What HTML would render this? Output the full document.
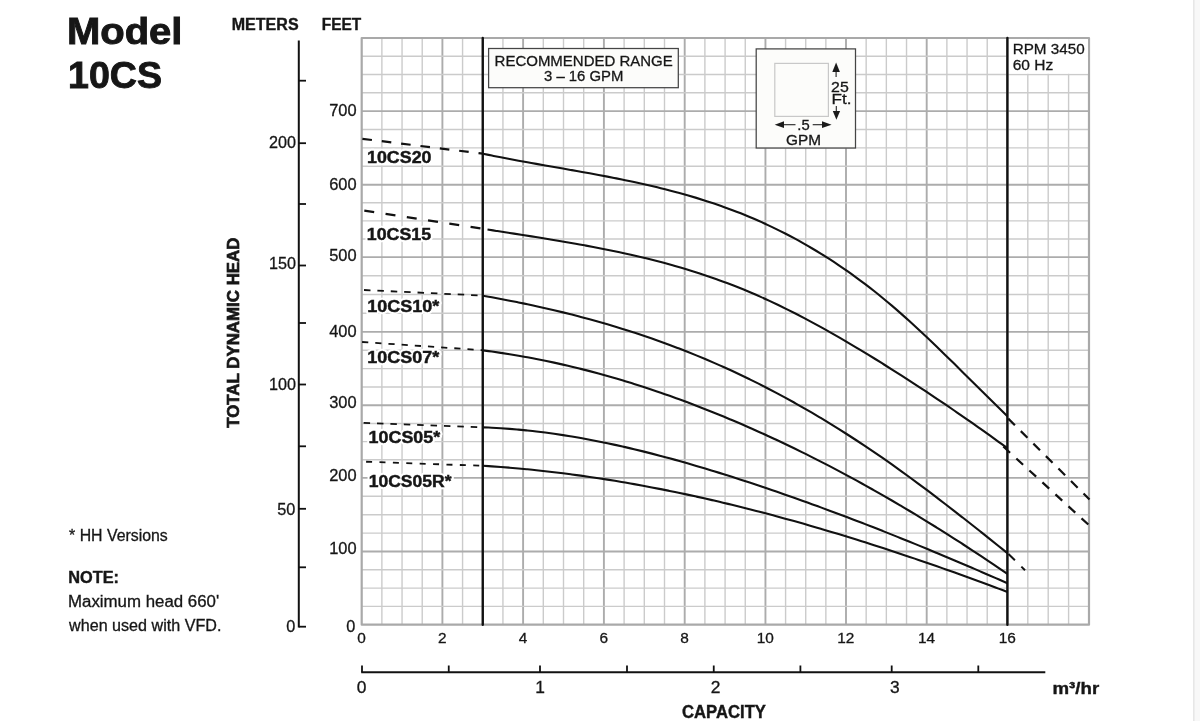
<!DOCTYPE html>
<html><head><meta charset="utf-8"><style>
html,body{margin:0;padding:0;background:#fff;width:1200px;height:721px;overflow:hidden}
svg{display:block;will-change:transform;font-family:"Liberation Sans",sans-serif;fill:#161616}
</style></head><body>
<svg width="1200" height="721" viewBox="0 0 1200 721">
<rect x="1194.4" y="0" width="5.6" height="721" fill="#f8f8f8"/>
<rect x="1193.2" y="0" width="1.3" height="721" fill="#e2e2e2"/>
<line x1="381.88" y1="38.00" x2="381.88" y2="624.70" stroke="#cbcbcb" stroke-width="1.4"/>
<line x1="402.05" y1="38.00" x2="402.05" y2="624.70" stroke="#cbcbcb" stroke-width="1.4"/>
<line x1="422.22" y1="38.00" x2="422.22" y2="624.70" stroke="#cbcbcb" stroke-width="1.4"/>
<line x1="442.40" y1="38.00" x2="442.40" y2="624.70" stroke="#acacac" stroke-width="1.9"/>
<line x1="462.57" y1="38.00" x2="462.57" y2="624.70" stroke="#cbcbcb" stroke-width="1.4"/>
<line x1="482.75" y1="38.00" x2="482.75" y2="624.70" stroke="#cbcbcb" stroke-width="1.4"/>
<line x1="502.93" y1="38.00" x2="502.93" y2="624.70" stroke="#cbcbcb" stroke-width="1.4"/>
<line x1="523.10" y1="38.00" x2="523.10" y2="624.70" stroke="#acacac" stroke-width="1.9"/>
<line x1="543.30" y1="38.00" x2="543.30" y2="624.70" stroke="#cbcbcb" stroke-width="1.4"/>
<line x1="563.50" y1="38.00" x2="563.50" y2="624.70" stroke="#cbcbcb" stroke-width="1.4"/>
<line x1="583.70" y1="38.00" x2="583.70" y2="624.70" stroke="#cbcbcb" stroke-width="1.4"/>
<line x1="603.90" y1="38.00" x2="603.90" y2="624.70" stroke="#acacac" stroke-width="1.9"/>
<line x1="624.10" y1="38.00" x2="624.10" y2="624.70" stroke="#cbcbcb" stroke-width="1.4"/>
<line x1="644.30" y1="38.00" x2="644.30" y2="624.70" stroke="#cbcbcb" stroke-width="1.4"/>
<line x1="664.50" y1="38.00" x2="664.50" y2="624.70" stroke="#cbcbcb" stroke-width="1.4"/>
<line x1="684.70" y1="38.00" x2="684.70" y2="624.70" stroke="#acacac" stroke-width="1.9"/>
<line x1="704.89" y1="38.00" x2="704.89" y2="624.70" stroke="#cbcbcb" stroke-width="1.4"/>
<line x1="725.08" y1="38.00" x2="725.08" y2="624.70" stroke="#cbcbcb" stroke-width="1.4"/>
<line x1="745.26" y1="38.00" x2="745.26" y2="624.70" stroke="#cbcbcb" stroke-width="1.4"/>
<line x1="765.45" y1="38.00" x2="765.45" y2="624.70" stroke="#acacac" stroke-width="1.9"/>
<line x1="785.59" y1="38.00" x2="785.59" y2="624.70" stroke="#cbcbcb" stroke-width="1.4"/>
<line x1="805.73" y1="38.00" x2="805.73" y2="624.70" stroke="#cbcbcb" stroke-width="1.4"/>
<line x1="825.86" y1="38.00" x2="825.86" y2="624.70" stroke="#cbcbcb" stroke-width="1.4"/>
<line x1="846.00" y1="38.00" x2="846.00" y2="624.70" stroke="#acacac" stroke-width="1.9"/>
<line x1="866.17" y1="38.00" x2="866.17" y2="624.70" stroke="#cbcbcb" stroke-width="1.4"/>
<line x1="886.35" y1="38.00" x2="886.35" y2="624.70" stroke="#cbcbcb" stroke-width="1.4"/>
<line x1="906.53" y1="38.00" x2="906.53" y2="624.70" stroke="#cbcbcb" stroke-width="1.4"/>
<line x1="926.70" y1="38.00" x2="926.70" y2="624.70" stroke="#acacac" stroke-width="1.9"/>
<line x1="946.88" y1="38.00" x2="946.88" y2="624.70" stroke="#cbcbcb" stroke-width="1.4"/>
<line x1="967.05" y1="38.00" x2="967.05" y2="624.70" stroke="#cbcbcb" stroke-width="1.4"/>
<line x1="987.23" y1="38.00" x2="987.23" y2="624.70" stroke="#cbcbcb" stroke-width="1.4"/>
<line x1="1007.40" y1="38.00" x2="1007.40" y2="624.70" stroke="#acacac" stroke-width="1.9"/>
<line x1="1027.80" y1="38.00" x2="1027.80" y2="624.70" stroke="#cbcbcb" stroke-width="1.4"/>
<line x1="1048.20" y1="38.00" x2="1048.20" y2="624.70" stroke="#cbcbcb" stroke-width="1.4"/>
<line x1="1068.60" y1="38.00" x2="1068.60" y2="624.70" stroke="#cbcbcb" stroke-width="1.4"/>
<line x1="361.70" y1="606.40" x2="1089.00" y2="606.40" stroke="#cbcbcb" stroke-width="1.4"/>
<line x1="361.70" y1="588.10" x2="1089.00" y2="588.10" stroke="#cbcbcb" stroke-width="1.4"/>
<line x1="361.70" y1="569.80" x2="1089.00" y2="569.80" stroke="#cbcbcb" stroke-width="1.4"/>
<line x1="361.70" y1="551.50" x2="1089.00" y2="551.50" stroke="#acacac" stroke-width="1.9"/>
<line x1="361.70" y1="533.10" x2="1089.00" y2="533.10" stroke="#cbcbcb" stroke-width="1.4"/>
<line x1="361.70" y1="514.70" x2="1089.00" y2="514.70" stroke="#cbcbcb" stroke-width="1.4"/>
<line x1="361.70" y1="496.30" x2="1089.00" y2="496.30" stroke="#cbcbcb" stroke-width="1.4"/>
<line x1="361.70" y1="477.90" x2="1089.00" y2="477.90" stroke="#acacac" stroke-width="1.9"/>
<line x1="361.70" y1="459.75" x2="1089.00" y2="459.75" stroke="#cbcbcb" stroke-width="1.4"/>
<line x1="361.70" y1="441.60" x2="1089.00" y2="441.60" stroke="#cbcbcb" stroke-width="1.4"/>
<line x1="361.70" y1="423.45" x2="1089.00" y2="423.45" stroke="#cbcbcb" stroke-width="1.4"/>
<line x1="361.70" y1="405.30" x2="1089.00" y2="405.30" stroke="#acacac" stroke-width="1.9"/>
<line x1="361.70" y1="386.95" x2="1089.00" y2="386.95" stroke="#cbcbcb" stroke-width="1.4"/>
<line x1="361.70" y1="368.60" x2="1089.00" y2="368.60" stroke="#cbcbcb" stroke-width="1.4"/>
<line x1="361.70" y1="350.25" x2="1089.00" y2="350.25" stroke="#cbcbcb" stroke-width="1.4"/>
<line x1="361.70" y1="331.90" x2="1089.00" y2="331.90" stroke="#acacac" stroke-width="1.9"/>
<line x1="361.70" y1="313.20" x2="1089.00" y2="313.20" stroke="#cbcbcb" stroke-width="1.4"/>
<line x1="361.70" y1="294.50" x2="1089.00" y2="294.50" stroke="#cbcbcb" stroke-width="1.4"/>
<line x1="361.70" y1="275.80" x2="1089.00" y2="275.80" stroke="#cbcbcb" stroke-width="1.4"/>
<line x1="361.70" y1="257.10" x2="1089.00" y2="257.10" stroke="#acacac" stroke-width="1.9"/>
<line x1="361.70" y1="239.00" x2="1089.00" y2="239.00" stroke="#cbcbcb" stroke-width="1.4"/>
<line x1="361.70" y1="220.90" x2="1089.00" y2="220.90" stroke="#cbcbcb" stroke-width="1.4"/>
<line x1="361.70" y1="202.80" x2="1089.00" y2="202.80" stroke="#cbcbcb" stroke-width="1.4"/>
<line x1="361.70" y1="184.70" x2="1089.00" y2="184.70" stroke="#acacac" stroke-width="1.9"/>
<line x1="361.70" y1="166.30" x2="1089.00" y2="166.30" stroke="#cbcbcb" stroke-width="1.4"/>
<line x1="361.70" y1="147.90" x2="1089.00" y2="147.90" stroke="#cbcbcb" stroke-width="1.4"/>
<line x1="361.70" y1="129.50" x2="1089.00" y2="129.50" stroke="#cbcbcb" stroke-width="1.4"/>
<line x1="361.70" y1="111.10" x2="1089.00" y2="111.10" stroke="#acacac" stroke-width="1.9"/>
<line x1="361.70" y1="92.82" x2="1089.00" y2="92.82" stroke="#cbcbcb" stroke-width="1.4"/>
<line x1="361.70" y1="74.55" x2="1089.00" y2="74.55" stroke="#cbcbcb" stroke-width="1.4"/>
<line x1="361.70" y1="56.27" x2="1089.00" y2="56.27" stroke="#cbcbcb" stroke-width="1.4"/>
<rect x="361.70" y="38.00" width="727.30" height="586.70" fill="none" stroke="#a9a9a9" stroke-width="2.2" stroke-linejoin="round"/>
<rect x="1008.40" y="39.10" width="79.50" height="34.65" fill="#fff"/>
<line x1="482.75" y1="38.00" x2="482.75" y2="624.70" stroke="#111" stroke-width="2.4" stroke-linecap="round"/>
<line x1="1007.40" y1="38.00" x2="1007.40" y2="624.70" stroke="#111" stroke-width="2.4" stroke-linecap="round"/>
<rect x="488.6" y="48.5" width="189.7" height="39.2" fill="#fcfcfa" stroke="#454545" stroke-width="1.25"/>
<rect x="756.2" y="48.9" width="99.3" height="99.1" fill="#fcfcfa" stroke="#454545" stroke-width="1.25"/>
<rect x="774.8" y="63.4" width="53.6" height="53" fill="none" stroke="#c8c8c8" stroke-width="1.2"/>
<line x1="836.1" y1="71" x2="836.1" y2="77" stroke="#222" stroke-width="1.1"/>
<line x1="836.3" y1="106" x2="836.3" y2="112" stroke="#222" stroke-width="1.1"/>
<path d="M836.1,62.5 L832.3,72.1 L839.9,72.1 Z" fill="#1a1a1a"/>
<path d="M836.4,119.7 L832.8,110.9 L840.1,110.9 Z" fill="#1a1a1a"/>
<line x1="783" y1="124.7" x2="795.5" y2="124.7" stroke="#222" stroke-width="1.1"/>
<line x1="812.7" y1="124.7" x2="823" y2="124.7" stroke="#222" stroke-width="1.1"/>
<path d="M774.7,124.7 L784,121.3 L784,128.1 Z" fill="#1a1a1a"/>
<path d="M831.6,124.7 L822,121.3 L822,128.1 Z" fill="#1a1a1a"/>
<path d="M483.00,153.72 C484.48,154.02 488.93,154.95 491.89,155.55 C494.85,156.15 497.81,156.74 500.78,157.32 C503.74,157.90 506.70,158.47 509.66,159.03 C512.63,159.59 515.59,160.14 518.55,160.69 C521.52,161.24 524.48,161.78 527.44,162.31 C530.40,162.85 533.37,163.37 536.33,163.90 C539.29,164.43 542.25,164.95 545.22,165.47 C548.18,165.99 551.14,166.51 554.11,167.03 C557.07,167.55 560.03,168.07 562.99,168.58 C565.96,169.10 568.92,169.62 571.88,170.15 C574.84,170.67 577.81,171.19 580.77,171.72 C583.73,172.26 586.69,172.79 589.66,173.33 C592.62,173.87 595.58,174.41 598.55,174.97 C601.51,175.52 604.47,176.08 607.43,176.65 C610.40,177.21 613.36,177.79 616.32,178.38 C619.28,178.97 622.25,179.56 625.21,180.17 C628.17,180.78 631.14,181.41 634.10,182.04 C637.06,182.68 640.02,183.32 642.99,183.99 C645.95,184.65 648.91,185.33 651.87,186.02 C654.84,186.72 657.80,187.43 660.76,188.16 C663.73,188.89 666.69,189.63 669.65,190.40 C672.61,191.17 675.58,191.95 678.54,192.76 C681.50,193.57 684.46,194.40 687.43,195.25 C690.39,196.10 693.35,196.97 696.32,197.87 C699.28,198.77 702.24,199.69 705.20,200.64 C708.17,201.59 711.13,202.56 714.09,203.56 C717.05,204.56 720.02,205.59 722.98,206.64 C725.94,207.70 728.91,208.78 731.87,209.90 C734.83,211.02 737.79,212.16 740.76,213.34 C743.72,214.52 746.68,215.72 749.64,216.97 C752.61,218.21 755.57,219.49 758.53,220.80 C761.49,222.11 764.46,223.45 767.42,224.83 C770.38,226.21 773.35,227.62 776.31,229.07 C779.27,230.52 782.23,232.00 785.20,233.52 C788.16,235.04 791.12,236.60 794.08,238.20 C797.05,239.79 800.01,241.43 802.97,243.10 C805.94,244.77 808.90,246.48 811.86,248.23 C814.82,249.98 817.79,251.77 820.75,253.60 C823.71,255.42 826.67,257.29 829.64,259.20 C832.60,261.11 835.56,263.07 838.53,265.06 C841.49,267.05 844.45,269.09 847.41,271.17 C850.38,273.24 853.34,275.37 856.30,277.53 C859.26,279.70 862.23,281.90 865.19,284.16 C868.15,286.41 871.12,288.71 874.08,291.05 C877.04,293.40 880.00,295.79 882.97,298.22 C885.93,300.66 888.89,303.15 891.85,305.67 C894.82,308.20 897.78,310.77 900.74,313.38 C903.71,315.99 906.67,318.65 909.63,321.33 C912.59,324.01 915.56,326.73 918.52,329.48 C921.48,332.23 924.44,335.01 927.41,337.81 C930.37,340.62 933.33,343.45 936.29,346.30 C939.26,349.15 942.22,352.02 945.18,354.91 C948.15,357.79 951.11,360.70 954.07,363.61 C957.03,366.53 960.00,369.46 962.96,372.39 C965.92,375.32 968.88,378.26 971.85,381.21 C974.81,384.15 977.77,387.09 980.74,390.03 C983.70,392.98 986.66,395.92 989.62,398.85 C992.59,401.78 995.55,404.71 998.51,407.62 C1001.47,410.53 1005.92,414.87 1007.40,416.32" fill="none" stroke="#111" stroke-width="2.1" stroke-linecap="butt" stroke-linejoin="round"/>
<path d="M487.50,229.54 C488.97,229.77 493.37,230.46 496.31,230.92 C499.25,231.37 502.19,231.83 505.12,232.28 C508.06,232.74 511.00,233.20 513.94,233.65 C516.87,234.11 519.81,234.57 522.75,235.03 C525.68,235.49 528.62,235.95 531.56,236.41 C534.50,236.88 537.43,237.34 540.37,237.82 C543.31,238.29 546.25,238.76 549.18,239.24 C552.12,239.72 555.06,240.21 557.99,240.70 C560.93,241.19 563.87,241.69 566.81,242.20 C569.74,242.70 572.68,243.22 575.62,243.74 C578.56,244.26 581.49,244.79 584.43,245.32 C587.37,245.86 590.31,246.41 593.24,246.97 C596.18,247.53 599.12,248.09 602.05,248.67 C604.99,249.25 607.93,249.84 610.87,250.44 C613.80,251.05 616.74,251.66 619.68,252.29 C622.62,252.92 625.55,253.56 628.49,254.22 C631.43,254.87 634.36,255.54 637.30,256.23 C640.24,256.91 643.18,257.61 646.11,258.33 C649.05,259.05 651.99,259.78 654.93,260.53 C657.86,261.29 660.80,262.05 663.74,262.84 C666.67,263.63 669.61,264.43 672.55,265.26 C675.49,266.09 678.42,266.93 681.36,267.80 C684.30,268.66 687.24,269.55 690.17,270.45 C693.11,271.36 696.05,272.29 698.98,273.24 C701.92,274.19 704.86,275.17 707.80,276.16 C710.73,277.16 713.67,278.18 716.61,279.23 C719.55,280.28 722.48,281.34 725.42,282.44 C728.36,283.54 731.29,284.66 734.23,285.81 C737.17,286.96 740.11,288.13 743.04,289.33 C745.98,290.54 748.92,291.77 751.86,293.03 C754.79,294.28 757.73,295.57 760.67,296.88 C763.61,298.19 766.54,299.53 769.48,300.90 C772.42,302.26 775.35,303.65 778.29,305.06 C781.23,306.47 784.17,307.91 787.10,309.37 C790.04,310.83 792.98,312.31 795.92,313.81 C798.85,315.32 801.79,316.84 804.73,318.39 C807.66,319.94 810.60,321.51 813.54,323.10 C816.48,324.68 819.41,326.29 822.35,327.92 C825.29,329.55 828.23,331.19 831.16,332.85 C834.10,334.52 837.04,336.20 839.97,337.90 C842.91,339.59 845.85,341.31 848.79,343.04 C851.72,344.77 854.66,346.52 857.60,348.28 C860.54,350.04 863.47,351.81 866.41,353.60 C869.35,355.39 872.28,357.19 875.22,359.01 C878.16,360.82 881.10,362.65 884.03,364.49 C886.97,366.33 889.91,368.18 892.85,370.04 C895.78,371.90 898.72,373.77 901.66,375.66 C904.59,377.54 907.53,379.43 910.47,381.34 C913.41,383.25 916.34,385.16 919.28,387.09 C922.22,389.02 925.16,390.96 928.09,392.91 C931.03,394.86 933.97,396.82 936.91,398.79 C939.84,400.76 942.78,402.74 945.72,404.74 C948.65,406.73 951.59,408.74 954.53,410.75 C957.47,412.77 960.40,414.79 963.34,416.83 C966.28,418.87 969.22,420.92 972.15,422.97 C975.09,425.03 978.03,427.10 980.96,429.18 C983.90,431.26 986.84,433.36 989.78,435.46 C992.71,437.56 995.65,439.67 998.59,441.80 C1001.53,443.92 1005.93,447.13 1007.40,448.20" fill="none" stroke="#111" stroke-width="2.1" stroke-linecap="butt" stroke-linejoin="round"/>
<path d="M483.00,295.75 C484.48,296.02 488.93,296.79 491.89,297.33 C494.85,297.86 497.81,298.41 500.78,298.96 C503.74,299.52 506.70,300.09 509.66,300.67 C512.63,301.25 515.59,301.84 518.55,302.44 C521.52,303.04 524.48,303.65 527.44,304.28 C530.40,304.90 533.37,305.54 536.33,306.19 C539.29,306.84 542.25,307.50 545.22,308.18 C548.18,308.85 551.14,309.54 554.11,310.24 C557.07,310.94 560.03,311.65 562.99,312.38 C565.96,313.11 568.92,313.85 571.88,314.60 C574.84,315.36 577.81,316.12 580.77,316.91 C583.73,317.69 586.69,318.48 589.66,319.29 C592.62,320.11 595.58,320.93 598.55,321.77 C601.51,322.61 604.47,323.47 607.43,324.34 C610.40,325.21 613.36,326.09 616.32,326.99 C619.28,327.89 622.25,328.81 625.21,329.74 C628.17,330.68 631.14,331.62 634.10,332.59 C637.06,333.55 640.02,334.53 642.99,335.53 C645.95,336.53 648.91,337.54 651.87,338.58 C654.84,339.61 657.80,340.65 660.76,341.72 C663.73,342.79 666.69,343.87 669.65,344.97 C672.61,346.07 675.58,347.19 678.54,348.33 C681.50,349.46 684.46,350.62 687.43,351.79 C690.39,352.96 693.35,354.15 696.32,355.36 C699.28,356.57 702.24,357.80 705.20,359.05 C708.17,360.30 711.13,361.57 714.09,362.85 C717.05,364.14 720.02,365.45 722.98,366.77 C725.94,368.10 728.91,369.44 731.87,370.81 C734.83,372.18 737.79,373.56 740.76,374.97 C743.72,376.38 746.68,377.80 749.64,379.25 C752.61,380.70 755.57,382.17 758.53,383.66 C761.49,385.15 764.46,386.66 767.42,388.19 C770.38,389.72 773.35,391.27 776.31,392.85 C779.27,394.42 782.23,396.01 785.20,397.62 C788.16,399.24 791.12,400.87 794.08,402.52 C797.05,404.18 800.01,405.85 802.97,407.55 C805.94,409.24 808.90,410.96 811.86,412.70 C814.82,414.43 817.79,416.19 820.75,417.96 C823.71,419.74 826.67,421.54 829.64,423.35 C832.60,425.17 835.56,427.01 838.53,428.86 C841.49,430.72 844.45,432.60 847.41,434.50 C850.38,436.39 853.34,438.31 856.30,440.25 C859.26,442.19 862.23,444.15 865.19,446.12 C868.15,448.10 871.12,450.10 874.08,452.12 C877.04,454.13 880.00,456.17 882.97,458.23 C885.93,460.29 888.89,462.37 891.85,464.46 C894.82,466.56 897.78,468.68 900.74,470.81 C903.71,472.94 906.67,475.09 909.63,477.26 C912.59,479.43 915.56,481.61 918.52,483.81 C921.48,486.01 924.44,488.23 927.41,490.46 C930.37,492.68 933.33,494.93 936.29,497.18 C939.26,499.44 942.22,501.71 945.18,503.99 C948.15,506.26 951.11,508.56 954.07,510.86 C957.03,513.16 960.00,515.47 962.96,517.79 C965.92,520.10 968.88,522.43 971.85,524.77 C974.81,527.10 977.77,529.45 980.74,531.80 C983.70,534.15 986.66,536.50 989.62,538.86 C992.59,541.22 995.55,543.59 998.51,545.96 C1001.47,548.32 1005.92,551.89 1007.40,553.07" fill="none" stroke="#111" stroke-width="2.1" stroke-linecap="butt" stroke-linejoin="round"/>
<path d="M483.00,350.41 C484.48,350.60 488.93,351.17 491.89,351.57 C494.85,351.98 497.81,352.40 500.78,352.84 C503.74,353.28 506.70,353.74 509.66,354.22 C512.63,354.69 515.59,355.18 518.55,355.69 C521.52,356.20 524.48,356.73 527.44,357.27 C530.40,357.82 533.37,358.38 536.33,358.95 C539.29,359.53 542.25,360.13 545.22,360.74 C548.18,361.35 551.14,361.98 554.11,362.62 C557.07,363.27 560.03,363.93 562.99,364.61 C565.96,365.28 568.92,365.98 571.88,366.69 C574.84,367.40 577.81,368.12 580.77,368.87 C583.73,369.61 586.69,370.37 589.66,371.14 C592.62,371.92 595.58,372.71 598.55,373.52 C601.51,374.32 604.47,375.15 607.43,375.98 C610.40,376.82 613.36,377.68 616.32,378.55 C619.28,379.42 622.25,380.30 625.21,381.20 C628.17,382.10 631.14,383.02 634.10,383.95 C637.06,384.88 640.02,385.83 642.99,386.79 C645.95,387.75 648.91,388.73 651.87,389.72 C654.84,390.71 657.80,391.72 660.76,392.74 C663.73,393.76 666.69,394.80 669.65,395.85 C672.61,396.90 675.58,397.97 678.54,399.05 C681.50,400.13 684.46,401.23 687.43,402.34 C690.39,403.45 693.35,404.57 696.32,405.71 C699.28,406.85 702.24,408.00 705.20,409.17 C708.17,410.33 711.13,411.52 714.09,412.71 C717.05,413.91 720.02,415.12 722.98,416.34 C725.94,417.56 728.91,418.80 731.87,420.05 C734.83,421.30 737.79,422.56 740.76,423.84 C743.72,425.12 746.68,426.41 749.64,427.72 C752.61,429.02 755.57,430.34 758.53,431.67 C761.49,433.00 764.46,434.35 767.42,435.71 C770.38,437.07 773.35,438.44 776.31,439.82 C779.27,441.21 782.23,442.61 785.20,444.02 C788.16,445.43 791.12,446.86 794.08,448.30 C797.05,449.73 800.01,451.19 802.97,452.65 C805.94,454.12 808.90,455.59 811.86,457.09 C814.82,458.58 817.79,460.08 820.75,461.60 C823.71,463.12 826.67,464.65 829.64,466.19 C832.60,467.73 835.56,469.29 838.53,470.86 C841.49,472.43 844.45,474.01 847.41,475.61 C850.38,477.20 853.34,478.81 856.30,480.43 C859.26,482.05 862.23,483.69 865.19,485.33 C868.15,486.98 871.12,488.64 874.08,490.31 C877.04,491.98 880.00,493.67 882.97,495.37 C885.93,497.06 888.89,498.77 891.85,500.50 C894.82,502.22 897.78,503.96 900.74,505.70 C903.71,507.45 906.67,509.21 909.63,510.99 C912.59,512.76 915.56,514.55 918.52,516.34 C921.48,518.14 924.44,519.95 927.41,521.78 C930.37,523.60 933.33,525.44 936.29,527.28 C939.26,529.13 942.22,530.99 945.18,532.86 C948.15,534.74 951.11,536.62 954.07,538.52 C957.03,540.42 960.00,542.33 962.96,544.25 C965.92,546.17 968.88,548.10 971.85,550.05 C974.81,552.00 977.77,553.95 980.74,555.93 C983.70,557.90 986.66,559.88 989.62,561.87 C992.59,563.87 995.55,565.87 998.51,567.89 C1001.47,569.91 1005.92,572.97 1007.40,573.98" fill="none" stroke="#111" stroke-width="2.1" stroke-linecap="butt" stroke-linejoin="round"/>
<path d="M483.00,427.35 C484.48,427.41 488.93,427.58 491.89,427.72 C494.85,427.87 497.81,428.04 500.78,428.23 C503.74,428.41 506.70,428.62 509.66,428.85 C512.63,429.08 515.59,429.33 518.55,429.60 C521.52,429.87 524.48,430.17 527.44,430.48 C530.40,430.79 533.37,431.12 536.33,431.46 C539.29,431.81 542.25,432.18 545.22,432.57 C548.18,432.95 551.14,433.36 554.11,433.78 C557.07,434.20 560.03,434.64 562.99,435.10 C565.96,435.56 568.92,436.04 571.88,436.53 C574.84,437.02 577.81,437.53 580.77,438.06 C583.73,438.58 586.69,439.13 589.66,439.69 C592.62,440.24 595.58,440.82 598.55,441.41 C601.51,442.00 604.47,442.61 607.43,443.23 C610.40,443.85 613.36,444.49 616.32,445.14 C619.28,445.79 622.25,446.45 625.21,447.13 C628.17,447.81 631.14,448.51 634.10,449.21 C637.06,449.92 640.02,450.64 642.99,451.37 C645.95,452.11 648.91,452.86 651.87,453.61 C654.84,454.37 657.80,455.15 660.76,455.93 C663.73,456.71 666.69,457.51 669.65,458.32 C672.61,459.13 675.58,459.95 678.54,460.78 C681.50,461.61 684.46,462.45 687.43,463.30 C690.39,464.15 693.35,465.02 696.32,465.89 C699.28,466.76 702.24,467.65 705.20,468.54 C708.17,469.43 711.13,470.33 714.09,471.24 C717.05,472.16 720.02,473.08 722.98,474.01 C725.94,474.94 728.91,475.87 731.87,476.82 C734.83,477.77 737.79,478.72 740.76,479.68 C743.72,480.64 746.68,481.61 749.64,482.59 C752.61,483.57 755.57,484.55 758.53,485.54 C761.49,486.53 764.46,487.53 767.42,488.54 C770.38,489.54 773.35,490.56 776.31,491.57 C779.27,492.59 782.23,493.62 785.20,494.65 C788.16,495.69 791.12,496.73 794.08,497.78 C797.05,498.82 800.01,499.88 802.97,500.94 C805.94,502.00 808.90,503.06 811.86,504.14 C814.82,505.21 817.79,506.29 820.75,507.38 C823.71,508.46 826.67,509.56 829.64,510.66 C832.60,511.76 835.56,512.86 838.53,513.97 C841.49,515.08 844.45,516.20 847.41,517.33 C850.38,518.45 853.34,519.58 856.30,520.72 C859.26,521.85 862.23,522.99 865.19,524.14 C868.15,525.29 871.12,526.44 874.08,527.60 C877.04,528.76 880.00,529.93 882.97,531.10 C885.93,532.27 888.89,533.44 891.85,534.62 C894.82,535.81 897.78,536.99 900.74,538.19 C903.71,539.38 906.67,540.58 909.63,541.78 C912.59,542.98 915.56,544.19 918.52,545.40 C921.48,546.62 924.44,547.84 927.41,549.06 C930.37,550.28 933.33,551.51 936.29,552.74 C939.26,553.98 942.22,555.22 945.18,556.46 C948.15,557.70 951.11,558.95 954.07,560.20 C957.03,561.46 960.00,562.71 962.96,563.98 C965.92,565.24 968.88,566.50 971.85,567.77 C974.81,569.05 977.77,570.32 980.74,571.60 C983.70,572.88 986.66,574.16 989.62,575.45 C992.59,576.74 995.55,578.03 998.51,579.33 C1001.47,580.62 1005.92,582.58 1007.40,583.23" fill="none" stroke="#111" stroke-width="2.1" stroke-linecap="butt" stroke-linejoin="round"/>
<path d="M483.00,465.79 C484.48,465.88 488.93,466.16 491.89,466.36 C494.85,466.57 497.81,466.78 500.78,467.00 C503.74,467.23 506.70,467.47 509.66,467.71 C512.63,467.96 515.59,468.22 518.55,468.48 C521.52,468.75 524.48,469.03 527.44,469.32 C530.40,469.61 533.37,469.91 536.33,470.22 C539.29,470.53 542.25,470.85 545.22,471.18 C548.18,471.51 551.14,471.86 554.11,472.21 C557.07,472.56 560.03,472.92 562.99,473.30 C565.96,473.67 568.92,474.05 571.88,474.44 C574.84,474.84 577.81,475.24 580.77,475.65 C583.73,476.07 586.69,476.49 589.66,476.92 C592.62,477.35 595.58,477.80 598.55,478.25 C601.51,478.70 604.47,479.16 607.43,479.64 C610.40,480.11 613.36,480.59 616.32,481.08 C619.28,481.57 622.25,482.07 625.21,482.58 C628.17,483.09 631.14,483.61 634.10,484.14 C637.06,484.67 640.02,485.21 642.99,485.75 C645.95,486.30 648.91,486.86 651.87,487.42 C654.84,487.99 657.80,488.56 660.76,489.14 C663.73,489.73 666.69,490.32 669.65,490.92 C672.61,491.52 675.58,492.13 678.54,492.75 C681.50,493.37 684.46,494.00 687.43,494.64 C690.39,495.27 693.35,495.92 696.32,496.57 C699.28,497.23 702.24,497.89 705.20,498.56 C708.17,499.23 711.13,499.91 714.09,500.60 C717.05,501.28 720.02,501.98 722.98,502.68 C725.94,503.39 728.91,504.10 731.87,504.82 C734.83,505.54 737.79,506.27 740.76,507.00 C743.72,507.74 746.68,508.49 749.64,509.24 C752.61,509.99 755.57,510.75 758.53,511.52 C761.49,512.29 764.46,513.06 767.42,513.85 C770.38,514.63 773.35,515.42 776.31,516.22 C779.27,517.02 782.23,517.82 785.20,518.64 C788.16,519.45 791.12,520.27 794.08,521.10 C797.05,521.93 800.01,522.77 802.97,523.61 C805.94,524.45 808.90,525.30 811.86,526.16 C814.82,527.02 817.79,527.88 820.75,528.75 C823.71,529.63 826.67,530.50 829.64,531.39 C832.60,532.28 835.56,533.17 838.53,534.07 C841.49,534.97 844.45,535.87 847.41,536.79 C850.38,537.70 853.34,538.62 856.30,539.54 C859.26,540.47 862.23,541.40 865.19,542.34 C868.15,543.28 871.12,544.23 874.08,545.18 C877.04,546.13 880.00,547.09 882.97,548.05 C885.93,549.02 888.89,549.99 891.85,550.97 C894.82,551.94 897.78,552.93 900.74,553.92 C903.71,554.91 906.67,555.90 909.63,556.90 C912.59,557.90 915.56,558.91 918.52,559.92 C921.48,560.94 924.44,561.96 927.41,562.98 C930.37,564.01 933.33,565.04 936.29,566.07 C939.26,567.11 942.22,568.15 945.18,569.20 C948.15,570.24 951.11,571.30 954.07,572.35 C957.03,573.41 960.00,574.47 962.96,575.54 C965.92,576.61 968.88,577.69 971.85,578.76 C974.81,579.84 977.77,580.93 980.74,582.02 C983.70,583.11 986.66,584.20 989.62,585.30 C992.59,586.40 995.55,587.50 998.51,588.61 C1001.47,589.72 1005.92,591.40 1007.40,591.95" fill="none" stroke="#111" stroke-width="2.1" stroke-linecap="butt" stroke-linejoin="round"/>
<line x1="362.4" y1="138.8" x2="483" y2="153.7" stroke="#111" stroke-width="2.2" stroke-dasharray="9.6 9.9" stroke-dashoffset="0"/>
<line x1="364.3" y1="210.6" x2="483" y2="228.8" stroke="#111" stroke-width="2.2" stroke-dasharray="10 11.5" stroke-dashoffset="0"/>
<line x1="364" y1="290.0" x2="483" y2="295.6" stroke="#111" stroke-width="1.8" stroke-dasharray="6.5 6.9" stroke-dashoffset="0"/>
<line x1="362.1" y1="342.0" x2="483" y2="350.2" stroke="#111" stroke-width="1.8" stroke-dasharray="6.2 7" stroke-dashoffset="0"/>
<line x1="362.1" y1="422.8" x2="483" y2="427.4" stroke="#111" stroke-width="1.8" stroke-dasharray="6.5 6.9" stroke-dashoffset="-1.5"/>
<line x1="362.1" y1="461.6" x2="483" y2="465.8" stroke="#111" stroke-width="1.8" stroke-dasharray="6 7.4" stroke-dashoffset="-4"/>
<line x1="1007.4" y1="417.8" x2="1089.5" y2="499.5" stroke="#111" stroke-width="2.2" stroke-dasharray="9.4 8.3" stroke-dashoffset="-1.2"/>
<line x1="1003.3" y1="446.5" x2="1089" y2="525.2" stroke="#111" stroke-width="2.2" stroke-dasharray="9.2 8.5" stroke-dashoffset="0"/>
<line x1="1007.4" y1="553" x2="1025" y2="570.2" stroke="#111" stroke-width="2.0" stroke-dasharray="9 9" stroke-dashoffset="-1.5"/>
<text x="494.60" y="66.00" font-size="15" font-weight="normal" textLength="178.16" lengthAdjust="spacingAndGlyphs" stroke="#161616" stroke-width="0.3">RECOMMENDED RANGE</text>
<text x="544.02" y="81.40" font-size="15.2" font-weight="normal" textLength="79.41" lengthAdjust="spacingAndGlyphs" stroke="#161616" stroke-width="0.3">3 – 16 GPM</text>
<text x="1012.74" y="54.40" font-size="15" font-weight="normal" textLength="71.90" lengthAdjust="spacingAndGlyphs" stroke="#161616" stroke-width="0.3">RPM 3450</text>
<text x="1012.73" y="70.00" font-size="15.2" font-weight="normal" textLength="40.47" lengthAdjust="spacingAndGlyphs" stroke="#161616" stroke-width="0.3">60 Hz</text>
<text x="831.13" y="91.90" font-size="14.8" font-weight="normal" textLength="17.68" lengthAdjust="spacingAndGlyphs" stroke="#161616" stroke-width="0.3">25</text>
<text x="831.54" y="104.30" font-size="14.8" font-weight="normal" textLength="20.03" lengthAdjust="spacingAndGlyphs" stroke="#161616" stroke-width="0.3">Ft.</text>
<text x="797.30" y="129.60" font-size="14.8" font-weight="normal" textLength="12.34" lengthAdjust="spacingAndGlyphs" stroke="#161616" stroke-width="0.3">.5</text>
<text x="786.14" y="144.50" font-size="14.5" font-weight="normal" textLength="34.95" lengthAdjust="spacingAndGlyphs" stroke="#161616" stroke-width="0.3">GPM</text>
<text x="69.10" y="540.80" font-size="15.6" font-weight="normal" textLength="98.68" lengthAdjust="spacingAndGlyphs" stroke="#161616" stroke-width="0.3">* HH Versions</text>
<text x="68.02" y="607.00" font-size="15.6" font-weight="normal" textLength="151.19" lengthAdjust="spacingAndGlyphs" stroke="#161616" stroke-width="0.3">Maximum head 660'</text>
<text x="69.10" y="630.90" font-size="15.6" font-weight="normal" textLength="152.29" lengthAdjust="spacingAndGlyphs" stroke="#161616" stroke-width="0.3">when used with VFD.</text>
<text x="66.91" y="44.40" font-size="37.6" font-weight="bold" textLength="115.52" lengthAdjust="spacingAndGlyphs" stroke="#161616" stroke-width="0.9">Model</text>
<text x="68.10" y="88.00" font-size="37.6" font-weight="bold" textLength="93.91" lengthAdjust="spacingAndGlyphs" stroke="#161616" stroke-width="0.9">10CS</text>
<text x="231.77" y="30.10" font-size="17.2" font-weight="bold" textLength="66.82" lengthAdjust="spacingAndGlyphs" stroke="#161616" stroke-width="0.4">METERS</text>
<text x="321.80" y="29.60" font-size="17.2" font-weight="bold" textLength="39.44" lengthAdjust="spacingAndGlyphs" stroke="#161616" stroke-width="0.4">FEET</text>
<text x="68.13" y="582.60" font-size="16.8" font-weight="bold" textLength="50.86" lengthAdjust="spacingAndGlyphs" stroke="#161616" stroke-width="0.4">NOTE:</text>
<text x="682.05" y="717.50" font-size="17.5" font-weight="bold" textLength="83.90" lengthAdjust="spacingAndGlyphs" stroke="#161616" stroke-width="0.4">CAPACITY</text>
<text x="1052.51" y="694.00" font-size="17.2" font-weight="bold" textLength="46.65" lengthAdjust="spacingAndGlyphs" stroke="#161616" stroke-width="0.4">m³/hr</text>
<text x="367.04" y="162.75" font-size="16.8" font-weight="bold" textLength="64.46" lengthAdjust="spacingAndGlyphs" fill="#fff" stroke="#fff" stroke-width="4.5" stroke-linejoin="round">10CS20</text>
<text x="366.74" y="239.80" font-size="16.8" font-weight="bold" textLength="64.36" lengthAdjust="spacingAndGlyphs" fill="#fff" stroke="#fff" stroke-width="4.5" stroke-linejoin="round">10CS15</text>
<text x="367.23" y="311.60" font-size="16.8" font-weight="bold" textLength="71.97" lengthAdjust="spacingAndGlyphs" fill="#fff" stroke="#fff" stroke-width="4.5" stroke-linejoin="round">10CS10*</text>
<text x="367.23" y="363.30" font-size="16.8" font-weight="bold" textLength="71.97" lengthAdjust="spacingAndGlyphs" fill="#fff" stroke="#fff" stroke-width="4.5" stroke-linejoin="round">10CS07*</text>
<text x="368.63" y="443.30" font-size="16.8" font-weight="bold" textLength="71.56" lengthAdjust="spacingAndGlyphs" fill="#fff" stroke="#fff" stroke-width="4.5" stroke-linejoin="round">10CS05*</text>
<text x="368.66" y="487.40" font-size="16.8" font-weight="bold" textLength="82.86" lengthAdjust="spacingAndGlyphs" fill="#fff" stroke="#fff" stroke-width="4.5" stroke-linejoin="round">10CS05R*</text>
<text x="367.04" y="162.75" font-size="16.8" font-weight="bold" textLength="64.46" lengthAdjust="spacingAndGlyphs" stroke="#161616" stroke-width="0.45">10CS20</text>
<text x="366.74" y="239.80" font-size="16.8" font-weight="bold" textLength="64.36" lengthAdjust="spacingAndGlyphs" stroke="#161616" stroke-width="0.45">10CS15</text>
<text x="367.23" y="311.60" font-size="16.8" font-weight="bold" textLength="71.97" lengthAdjust="spacingAndGlyphs" stroke="#161616" stroke-width="0.45">10CS10*</text>
<text x="367.23" y="363.30" font-size="16.8" font-weight="bold" textLength="71.97" lengthAdjust="spacingAndGlyphs" stroke="#161616" stroke-width="0.45">10CS07*</text>
<text x="368.63" y="443.30" font-size="16.8" font-weight="bold" textLength="71.56" lengthAdjust="spacingAndGlyphs" stroke="#161616" stroke-width="0.45">10CS05*</text>
<text x="368.66" y="487.40" font-size="16.8" font-weight="bold" textLength="82.86" lengthAdjust="spacingAndGlyphs" stroke="#161616" stroke-width="0.45">10CS05R*</text>
<text x="0.00" y="0" font-size="17" font-weight="bold" textLength="190.23" lengthAdjust="spacingAndGlyphs" stroke="#161616" stroke-width="0.7" transform="translate(238.6,427.8) rotate(-90)">TOTAL DYNAMIC HEAD</text>
<text x="356.58" y="116.10" font-size="16.3" font-weight="normal" text-anchor="end" textLength="27.39" lengthAdjust="spacingAndGlyphs" stroke="#161616" stroke-width="0.3">700</text>
<text x="356.58" y="190.40" font-size="16.3" font-weight="normal" text-anchor="end" textLength="27.39" lengthAdjust="spacingAndGlyphs" stroke="#161616" stroke-width="0.3">600</text>
<text x="356.58" y="260.60" font-size="16.3" font-weight="normal" text-anchor="end" textLength="27.39" lengthAdjust="spacingAndGlyphs" stroke="#161616" stroke-width="0.3">500</text>
<text x="356.58" y="336.60" font-size="16.3" font-weight="normal" text-anchor="end" textLength="27.39" lengthAdjust="spacingAndGlyphs" stroke="#161616" stroke-width="0.3">400</text>
<text x="356.58" y="407.70" font-size="16.3" font-weight="normal" text-anchor="end" textLength="27.39" lengthAdjust="spacingAndGlyphs" stroke="#161616" stroke-width="0.3">300</text>
<text x="356.58" y="480.90" font-size="16.3" font-weight="normal" text-anchor="end" textLength="27.39" lengthAdjust="spacingAndGlyphs" stroke="#161616" stroke-width="0.3">200</text>
<text x="356.58" y="553.50" font-size="16.3" font-weight="normal" text-anchor="end" textLength="27.39" lengthAdjust="spacingAndGlyphs" stroke="#161616" stroke-width="0.3">100</text>
<text x="355.36" y="631.50" font-size="16.3" font-weight="normal" text-anchor="end" textLength="9.06" lengthAdjust="spacingAndGlyphs" stroke="#161616" stroke-width="0.3">0</text>
<line x1="298.8" y1="40.5" x2="298.8" y2="627.5" stroke="#111" stroke-width="2"/>
<line x1="298.8" y1="626.7" x2="306" y2="626.7" stroke="#111" stroke-width="1.8"/>
<line x1="298.8" y1="567.3" x2="306" y2="567.3" stroke="#111" stroke-width="1.8"/>
<line x1="298.8" y1="508.8" x2="306" y2="508.8" stroke="#111" stroke-width="1.8"/>
<line x1="298.8" y1="446.3" x2="306" y2="446.3" stroke="#111" stroke-width="1.8"/>
<line x1="298.8" y1="384.5" x2="306" y2="384.5" stroke="#111" stroke-width="1.8"/>
<line x1="298.8" y1="323" x2="306" y2="323" stroke="#111" stroke-width="1.8"/>
<line x1="298.8" y1="265.5" x2="306" y2="265.5" stroke="#111" stroke-width="1.8"/>
<line x1="298.8" y1="204" x2="306" y2="204" stroke="#111" stroke-width="1.8"/>
<line x1="298.8" y1="143.2" x2="306" y2="143.2" stroke="#111" stroke-width="1.8"/>
<line x1="298.8" y1="80.7" x2="306" y2="80.7" stroke="#111" stroke-width="1.8"/>
<text x="295.96" y="147.90" font-size="16.3" font-weight="normal" text-anchor="end" textLength="26.95" lengthAdjust="spacingAndGlyphs" stroke="#161616" stroke-width="0.3">200</text>
<text x="295.96" y="269.20" font-size="16.3" font-weight="normal" text-anchor="end" textLength="26.95" lengthAdjust="spacingAndGlyphs" stroke="#161616" stroke-width="0.3">150</text>
<text x="295.96" y="389.60" font-size="16.3" font-weight="normal" text-anchor="end" textLength="26.95" lengthAdjust="spacingAndGlyphs" stroke="#161616" stroke-width="0.3">100</text>
<text x="295.42" y="514.80" font-size="16.3" font-weight="normal" text-anchor="end" textLength="18.12" lengthAdjust="spacingAndGlyphs" stroke="#161616" stroke-width="0.3">50</text>
<text x="295.36" y="631.60" font-size="16.3" font-weight="normal" text-anchor="end" textLength="9.06" lengthAdjust="spacingAndGlyphs" stroke="#161616" stroke-width="0.3">0</text>
<text x="361.51" y="643.10" font-size="15.4" font-weight="normal" text-anchor="middle" textLength="8.56" lengthAdjust="spacingAndGlyphs" stroke="#161616" stroke-width="0.3">0</text>
<text x="442.21" y="643.10" font-size="15.4" font-weight="normal" text-anchor="middle" textLength="8.56" lengthAdjust="spacingAndGlyphs" stroke="#161616" stroke-width="0.3">2</text>
<text x="522.91" y="643.10" font-size="15.4" font-weight="normal" text-anchor="middle" textLength="8.56" lengthAdjust="spacingAndGlyphs" stroke="#161616" stroke-width="0.3">4</text>
<text x="603.71" y="643.10" font-size="15.4" font-weight="normal" text-anchor="middle" textLength="8.56" lengthAdjust="spacingAndGlyphs" stroke="#161616" stroke-width="0.3">6</text>
<text x="684.51" y="643.10" font-size="15.4" font-weight="normal" text-anchor="middle" textLength="8.56" lengthAdjust="spacingAndGlyphs" stroke="#161616" stroke-width="0.3">8</text>
<text x="765.26" y="643.10" font-size="15.4" font-weight="normal" text-anchor="middle" textLength="17.12" lengthAdjust="spacingAndGlyphs" stroke="#161616" stroke-width="0.3">10</text>
<text x="845.81" y="643.10" font-size="15.4" font-weight="normal" text-anchor="middle" textLength="17.12" lengthAdjust="spacingAndGlyphs" stroke="#161616" stroke-width="0.3">12</text>
<text x="926.51" y="643.10" font-size="15.4" font-weight="normal" text-anchor="middle" textLength="17.12" lengthAdjust="spacingAndGlyphs" stroke="#161616" stroke-width="0.3">14</text>
<text x="1007.21" y="643.10" font-size="15.4" font-weight="normal" text-anchor="middle" textLength="17.12" lengthAdjust="spacingAndGlyphs" stroke="#161616" stroke-width="0.3">16</text>
<line x1="361.2" y1="672.2" x2="1045.3" y2="672.2" stroke="#111" stroke-width="2"/>
<line x1="362" y1="665.5" x2="362" y2="672.2" stroke="#111" stroke-width="1.8"/>
<line x1="448.75" y1="665.5" x2="448.75" y2="672.2" stroke="#111" stroke-width="1.8"/>
<line x1="540" y1="665.5" x2="540" y2="672.2" stroke="#111" stroke-width="1.8"/>
<line x1="627" y1="665.5" x2="627" y2="672.2" stroke="#111" stroke-width="1.8"/>
<line x1="713.75" y1="665.5" x2="713.75" y2="672.2" stroke="#111" stroke-width="1.8"/>
<line x1="800.4" y1="665.5" x2="800.4" y2="672.2" stroke="#111" stroke-width="1.8"/>
<line x1="891.7" y1="665.5" x2="891.7" y2="672.2" stroke="#111" stroke-width="1.8"/>
<line x1="978.3" y1="665.5" x2="978.3" y2="672.2" stroke="#111" stroke-width="1.8"/>
<text x="361.50" y="692.50" font-size="15.6" font-weight="normal" text-anchor="middle" textLength="9.68" lengthAdjust="spacingAndGlyphs" stroke="#161616" stroke-width="0.3">0</text>
<text x="540.00" y="692.50" font-size="15.6" font-weight="normal" text-anchor="middle" textLength="9.68" lengthAdjust="spacingAndGlyphs" stroke="#161616" stroke-width="0.3">1</text>
<text x="715.50" y="692.50" font-size="15.6" font-weight="normal" text-anchor="middle" textLength="9.68" lengthAdjust="spacingAndGlyphs" stroke="#161616" stroke-width="0.3">2</text>
<text x="894.90" y="692.50" font-size="15.6" font-weight="normal" text-anchor="middle" textLength="9.68" lengthAdjust="spacingAndGlyphs" stroke="#161616" stroke-width="0.3">3</text>
</svg></body></html>
